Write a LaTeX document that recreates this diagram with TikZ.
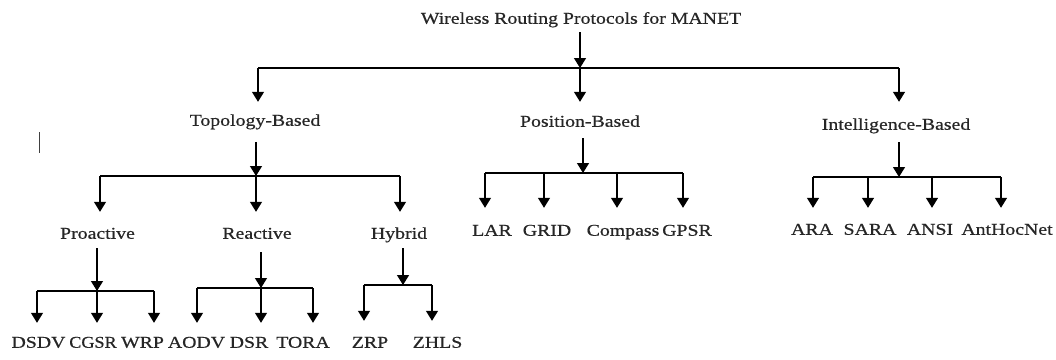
\documentclass[tikz,border=0pt]{standalone}
\usepackage{fontspec}
\setmainfont{Liberation Serif}[FakeStretch=1.2,FakeBold=0.6]
\usetikzlibrary{arrows.meta}
\begin{document}
\begin{tikzpicture}[x=1pt,y=-1pt,
  lbl/.style={inner sep=0pt, font=\fontsize{16.5}{19}\selectfont, text height=11pt, text depth=3.5pt, text=black!85},
  nar/.style={lbl, font=\fontsize{16.5}{19}\selectfont\addfontfeatures{FakeStretch=1.1}},
  arr/.style={-{Triangle[width=12pt,length=10pt]}, line width=1.3pt},
  bar/.style={line width=1.3pt}]
\useasboundingbox (0,0) rectangle (1056,359);

% labels
\node[lbl] (title) at (581,20) {Wireless Routing Protocols for MANET};
\node[lbl] (topo) at (255,122) {Topology-Based};
\node[lbl] (pos) at (580,123) {Position-Based};
\node[lbl] (intel) at (896,126) {Intelligence-Based};
\node[lbl] (pro) at (97.5,235) {Proactive};
\node[lbl] (rea) at (257,235) {Reactive};
\node[lbl] (hyb) at (399,235) {Hybrid};
\node[lbl] (dsdv) at (38.5,344) {DSDV};
\node[nar] (cgsr) at (93,344) {CGSR};
\node[lbl] (wrp) at (142.5,344) {WRP};
\node[lbl] (aodv) at (196.5,344) {AODV};
\node[lbl] (dsr) at (249,344) {DSR};
\node[lbl] (tora) at (303,344) {TORA};
\node[lbl] (zrp) at (370,344) {ZRP};
\node[lbl] (zhls) at (437.5,344) {ZHLS};
\node[lbl] (lar) at (492,232) {LAR};
\node[lbl] (grid) at (547,232) {GRID};
\node[lbl] (comp) at (623,232) {Compass};
\node[lbl] (gpsr) at (687,232) {GPSR};
\node[lbl] (ara) at (812,231) {ARA};
\node[lbl] (sara) at (870,231) {SARA};
\node[lbl] (ansi) at (930,231) {ANSI};
\node[lbl] (ahn) at (1007,231) {AntHocNet};

% stray mark
\coordinate (m1) at (39,132);
\coordinate (m2) at (39,153);
\draw[line width=0.9pt, black!75] (m1) -- (m2);

% level 0
\coordinate (b0) at (580,68);
\coordinate (b0l) at (258,68);
\coordinate (b0r) at (899,68);
\draw[arr, shorten <=4.75pt] (b0 |- title.south) -- (b0);
\draw[bar] (b0l) -- (b0r);
\draw[arr, shorten >=12.75pt] (b0l) -- (b0l |- topo.north);
\draw[arr, shorten >=13.75pt] (b0) -- (b0 |- pos.north);
\draw[arr, shorten >=16.75pt] (b0r) -- (b0r |- intel.north);

% topology
\coordinate (b1) at (256,176);
\coordinate (b1l) at (100,176);
\coordinate (b1r) at (400,176);
\draw[arr, shorten <=12.5pt] (b1 |- topo.south) -- (b1);
\draw[bar] (b1l) -- (b1r);
\draw[arr, shorten >=15.75pt] (b1l) -- (b1l |- pro.north);
\draw[arr, shorten >=15.75pt] (b1) -- (b1 |- rea.north);
\draw[arr, shorten >=15.75pt] (b1r) -- (b1r |- hyb.north);

% proactive
\coordinate (b2) at (97,291);
\coordinate (b2l) at (37,291);
\coordinate (b2r) at (154,291);
\draw[arr, shorten <=5.75pt] (b2 |- pro.south) -- (b2);
\draw[bar] (b2l) -- (b2r);
\draw[arr, shorten >=13.75pt] (b2l) -- (b2l |- dsdv.north);
\draw[arr, shorten >=13.75pt] (b2) -- (b2 |- cgsr.north);
\draw[arr, shorten >=13.75pt] (b2r) -- (b2r |- wrp.north);

% reactive
\coordinate (b3) at (261,288);
\coordinate (b3l) at (197,288);
\coordinate (b3r) at (313,288);
\draw[arr, shorten <=9.75pt] (b3 |- rea.south) -- (b3);
\draw[bar] (b3l) -- (b3r);
\draw[arr, shorten >=13.75pt] (b3l) -- (b3l |- aodv.north);
\draw[arr, shorten >=13.75pt] (b3) -- (b3 |- dsr.north);
\draw[arr, shorten >=13.75pt] (b3r) -- (b3r |- tora.north);

% hybrid
\coordinate (b4) at (403,285);
\coordinate (b4l) at (364,285);
\coordinate (b4r) at (432,285);
\draw[arr, shorten <=5.75pt] (b4 |- hyb.south) -- (b4);
\draw[bar] (b4l) -- (b4r);
\draw[arr, shorten >=15.75pt] (b4l) -- (b4l |- zrp.north);
\draw[arr, shorten >=15.75pt] (b4r) -- (b4r |- zhls.north);

% position
\coordinate (b5) at (583,173);
\coordinate (b5l) at (485,173);
\coordinate (b5a) at (544,173);
\coordinate (b5b) at (617,173);
\coordinate (b5r) at (683,173);
\draw[arr, shorten <=7.75pt] (b5 |- pos.south) -- (b5);
\draw[bar] (b5l) -- (b5r);
\draw[arr, shorten >=16.75pt] (b5l) -- (b5l |- lar.north);
\draw[arr, shorten >=16.75pt] (b5a) -- (b5a |- grid.north);
\draw[arr, shorten >=16.75pt] (b5b) -- (b5b |- comp.north);
\draw[arr, shorten >=16.75pt] (b5r) -- (b5r |- gpsr.north);

% intelligence
\coordinate (b6) at (899,177);
\coordinate (b6l) at (813,177);
\coordinate (b6a) at (868,177);
\coordinate (b6b) at (932,177);
\coordinate (b6r) at (1001,177);
\draw[arr, shorten <=8.75pt] (b6 |- intel.south) -- (b6);
\draw[bar] (b6l) -- (b6r);
\draw[arr, shorten >=15.75pt] (b6l) -- (b6l |- ara.north);
\draw[arr, shorten >=15.75pt] (b6a) -- (b6a |- sara.north);
\draw[arr, shorten >=15.75pt] (b6b) -- (b6b |- ansi.north);
\draw[arr, shorten >=15.75pt] (b6r) -- (b6r |- ahn.north);
\end{tikzpicture}
\end{document}
